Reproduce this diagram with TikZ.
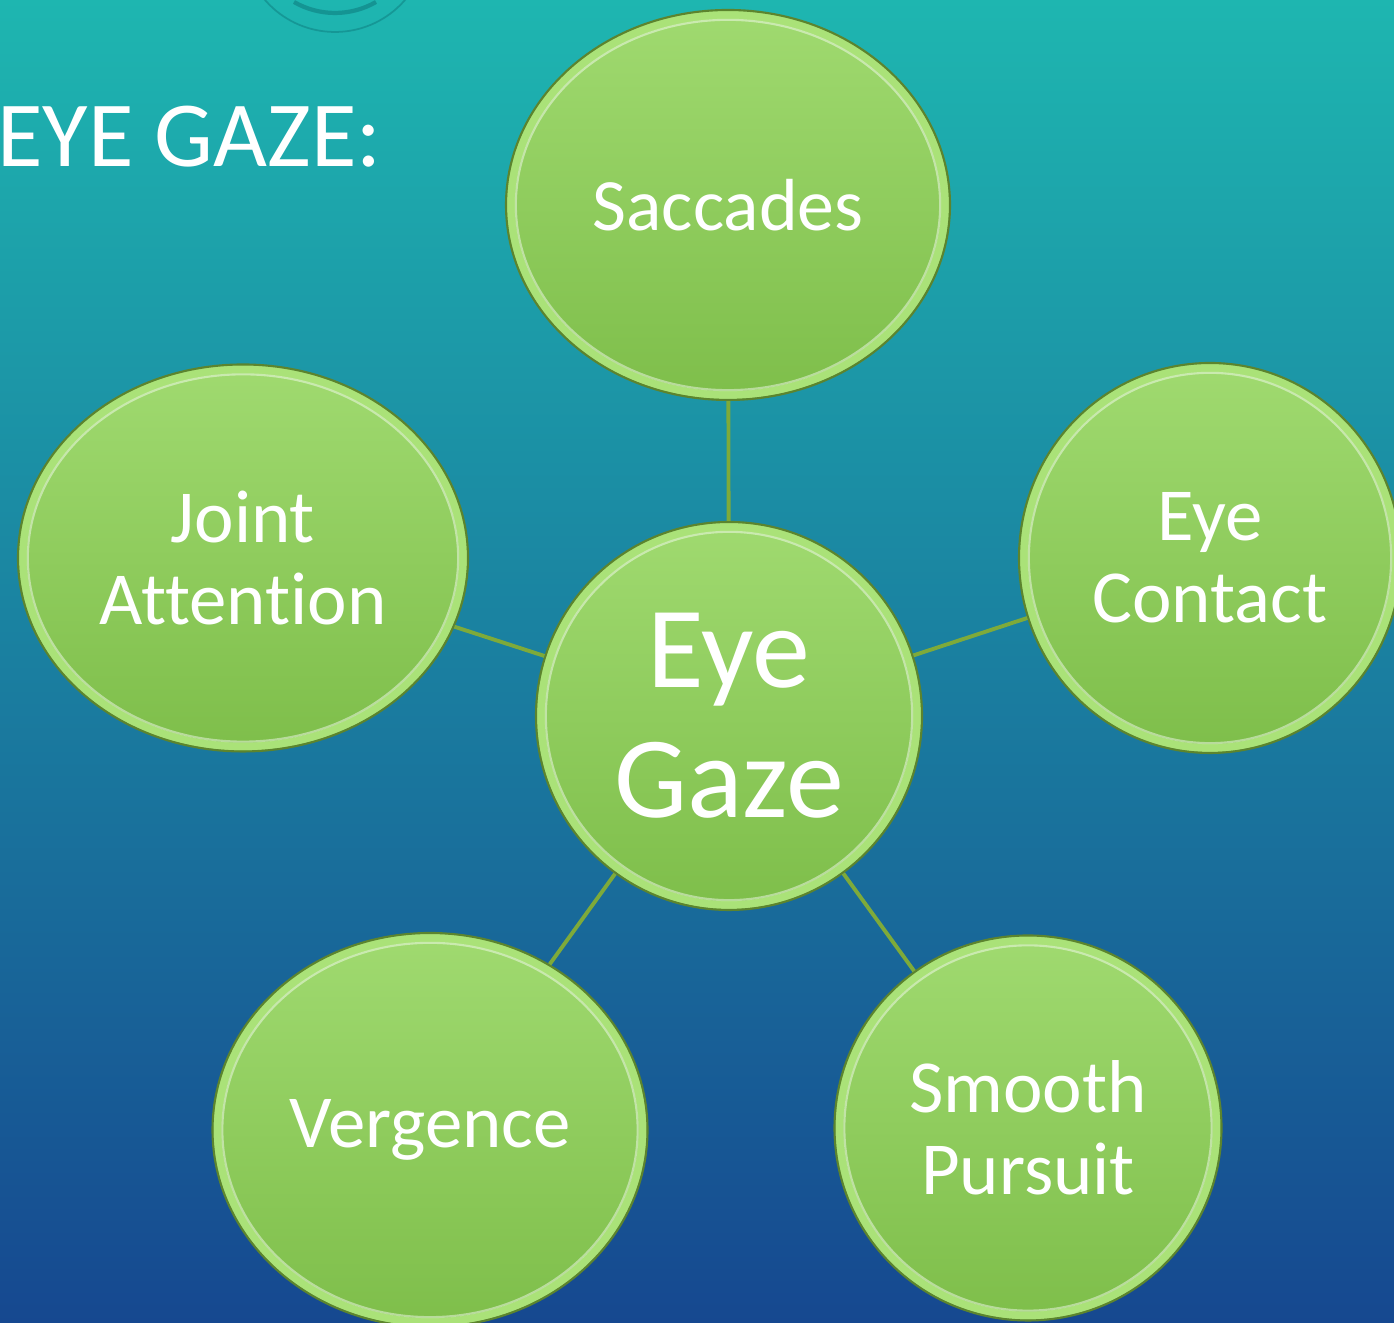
\documentclass[tikz,border=0pt]{standalone}
\usepackage{fontspec}
\setmainfont[Ligatures=NoCommon]{Carlito}
\usetikzlibrary{shapes.geometric,calc}

\definecolor{bgtop}{RGB}{30,182,176}
\definecolor{bgmid}{RGB}{24,136,168}
\definecolor{bgbot}{RGB}{22,72,144}
\definecolor{bubtop}{RGB}{160,218,112}
\definecolor{bubbot}{RGB}{126,190,74}
\definecolor{bubedge}{RGB}{92,132,46}
\definecolor{bubrim}{RGB}{170,226,120}
\definecolor{linkgreen}{RGB}{126,170,58}
\definecolor{decor}{RGB}{18,140,140}

\tikzset{
  bubble/.style={ellipse, draw=bubedge, line width=0.6pt,
    top color=bubtop, bottom color=bubbot, text=white, align=center, inner sep=0pt,
    path picture={
      \draw[bubrim, line width=2.2pt]
        let \p1=(path picture bounding box.north east), \p2=(path picture bounding box.center)
        in (\p2) ellipse ({\x1-\x2-1.4pt} and {\y1-\y2-1.4pt});
      \draw[white, opacity=.45, line width=0.6pt]
        let \p1=(path picture bounding box.north east), \p2=(path picture bounding box.center)
        in (\p2) ellipse ({\x1-\x2-2.8pt} and {\y1-\y2-2.8pt});
    }},
  small/.style={font=\fontsize{21.3}{23.3}\selectfont},
  link/.style={draw=linkgreen, line width=1.1pt}
}

\begin{document}
\begin{tikzpicture}
\useasboundingbox (0,0) rectangle (13.94,13.23);
\shade[top color=bgtop, middle color=bgmid, bottom color=bgbot] (0,0) rectangle (13.94,13.23);

% decoration at the top
\draw[decor, opacity=.7, line width=0.5pt] (3.35,13.836) circle (0.926);
\draw[decor, opacity=.8, line width=1.2pt] (3.35,13.92) ++(240:0.82) arc (240:300:0.82);

% title
\node[anchor=base west, text=white, font=\fontsize{26.5}{30}\selectfont] (title) at (-0.15,11.56) {EYE GAZE:};

% bubbles
\node[bubble, minimum width=4.44cm, minimum height=3.90cm, font=\fontsize{21}{24}\selectfont] (sacc) at (7.28,11.18) {Saccades};
\node[bubble, small, minimum width=4.50cm, minimum height=3.87cm] (joint) at (2.43,7.65) {Joint\\Attention};
\node[bubble, small, minimum width=3.82cm, minimum height=3.90cm] (contact) at (12.10,7.65) {Eye\\Contact};
\node[bubble, minimum width=3.86cm, minimum height=3.88cm, font=\fontsize{33}{37}\selectfont] (gaze) at (7.29,6.07) {Eye\\Gaze};
\node[bubble, small, minimum width=4.35cm, minimum height=3.94cm] (verg) at (4.30,1.93) {Vergence};
\node[bubble, small, minimum width=3.87cm, minimum height=3.85cm] (pursuit) at (10.28,1.95) {Smooth\\Pursuit};

% links
\draw[link] (gaze) -- (sacc);
\draw[link] (gaze) -- (joint);
\draw[link] (gaze) -- (contact);
\draw[link] (gaze) -- (verg);
\draw[link] (gaze) -- (pursuit);
\end{tikzpicture}
\end{document}
